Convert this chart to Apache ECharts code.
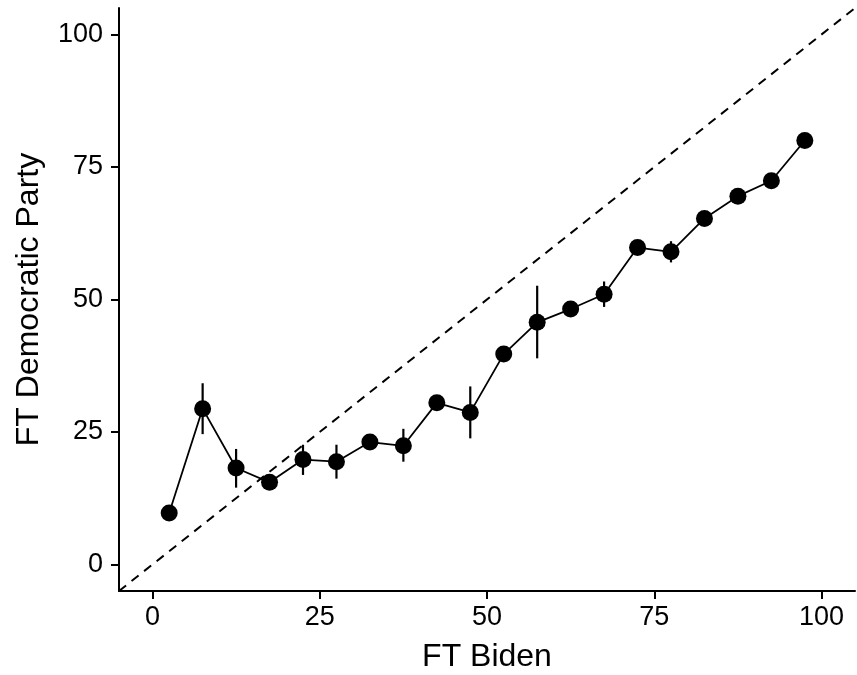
<!DOCTYPE html>
<html>
<head>
<meta charset="utf-8">
<script src="https://cdn.jsdelivr.net/npm/echarts@6/dist/echarts.min.js"></script>
<style>
  html, body { margin: 0; padding: 0; background: #fff; }
  #chart { width: 857px; height: 675px; }
</style>
</head>
<body>
<div id="chart"></div>
<script>
// FT Biden bins (midpoints) and mean FT Democratic Party with 95% interval
const bidenBins = [2.5, 7.5, 12.5, 17.5, 22.5, 27.5, 32.5, 37.5, 42.5, 47.5,
                   52.5, 57.5, 62.5, 67.5, 72.5, 77.5, 82.5, 87.5, 92.5, 97.5];
const demMeans = [9.7, 29.4, 18.2, 15.5, 19.8, 19.4, 23.1, 22.4, 30.5, 28.7,
                  39.7, 45.7, 48.2, 51.0, 59.8, 59.0, 65.3, 69.5, 72.4, 80.0];
const demLower = [8.5, 24.6, 14.5, 14.2, 16.9, 16.2, 21.9, 19.4, 29.1, 23.8,
                  38.4, 38.9, 47.0, 48.6, 58.4, 57.0, 64.1, 68.5, 71.2, 79.0];
const demUpper = [10.9, 34.2, 21.8, 16.8, 22.6, 22.6, 24.3, 25.6, 31.9, 33.6,
                  41.0, 52.6, 49.4, 53.4, 61.2, 61.0, 66.5, 70.5, 73.6, 81.0];
const tickValues = [0, 25, 50, 75, 100];
const refLine = [[-5, -5], [105, 105]];

const chart = echarts.init(document.getElementById('chart'));

const points = bidenBins.map((x, i) => [x, demMeans[i]]);
const bars = bidenBins.map((x, i) => [x, demLower[i], demUpper[i]]);

const axisCommon = {
    type: 'value',
    min: -5,
    max: 105,
    splitLine: { show: false },
    axisLine: { show: true, onZero: false, lineStyle: { color: '#000', width: 2 } },
    axisTick: { show: true, length: 8, customValues: tickValues, lineStyle: { color: '#000', width: 2 } },
    nameLocation: 'middle',
    nameTextStyle: { fontFamily: 'Liberation Sans', fontSize: 32, color: '#000' }
};

const option = {
    animation: false,
    backgroundColor: '#fff',
    grid: { left: 119, right: 2, top: 8, bottom: 84, outerBoundsMode: 'none' },
    xAxis: Object.assign({}, axisCommon, {
        name: 'FT Biden',
        nameGap: 50,
        axisLabel: { customValues: tickValues, margin: 13, fontFamily: 'Liberation Sans', fontSize: 27, color: '#000' }
    }),
    yAxis: Object.assign({}, axisCommon, {
        name: 'FT Democratic Party',
        nameGap: 74,
        axisLabel: { customValues: tickValues, margin: 16, fontFamily: 'Liberation Sans', fontSize: 27, color: '#000' }
    }),
    series: [
        {
            type: 'line',
            data: refLine,
            symbol: 'none',
            lineStyle: { color: '#000', width: 2, type: [9, 7] },
            z: 1
        },
        {
            type: 'line',
            data: points,
            symbol: 'none',
            lineStyle: { color: '#000', width: 1.8 },
            z: 2
        },
        {
            type: 'custom',
            data: bars,
            encode: { x: 0, y: [1, 2] },
            renderItem: function (params, api) {
                const lo = api.coord([api.value(0), api.value(1)]);
                const hi = api.coord([api.value(0), api.value(2)]);
                return {
                    type: 'line',
                    shape: { x1: lo[0], y1: lo[1], x2: hi[0], y2: hi[1] },
                    style: { stroke: '#000', lineWidth: 2.2 }
                };
            },
            z: 3
        },
        {
            type: 'scatter',
            data: points,
            symbol: 'circle',
            symbolSize: 17,
            itemStyle: { color: '#000', opacity: 1 },
            z: 4
        }
    ]
};

chart.setOption(option);
</script>
</body>
</html>
